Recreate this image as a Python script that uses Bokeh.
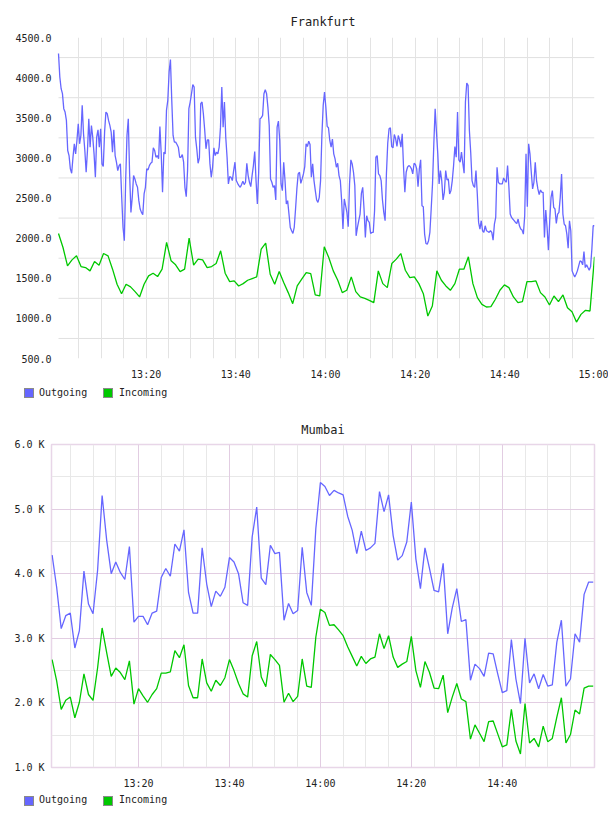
import numpy as np
import pandas as pd
from bokeh.plotting import figure
from bokeh.layouts import column
from bokeh.models import (Range1d, FixedTicker, NumeralTickFormatter, CustomJSTickFormatter,
                          Grid, ColumnDataSource, Div)
from bokeh.embed import file_html
from bokeh.resources import INLINE

DAY = "2024-01-01"

# ---------------- data ----------------
fra_start, fra_end = "13:00:27", "15:00:00"
fra_outgoing = [
    4300, 4008, 3862, 3800, 3613, 3571, 3467, 3092, 3029, 2863, 2808, 3008, 3175, 3050, 3217, 3425,
    3175, 3279, 3654, 3300, 3092, 2821, 3092, 3488, 3133, 3404, 3258, 3050, 2758, 3258, 3350, 3133,
    3363, 2925, 2892, 3321, 3571, 3550, 3467, 3404, 3321, 3071, 3350, 3029, 2946, 2842, 2904, 2925,
    2508, 2133, 1967, 2717, 3279, 3488, 2800, 2321, 2508, 2779, 2738, 2675, 2633, 2467, 2363, 2321,
    2292, 2550, 2633, 2863, 2850, 2904, 2933, 2946, 3125, 3092, 3008, 3029, 2988, 3392, 3050, 2571,
    3071, 3050, 3592, 3717, 4071, 4225, 3717, 3279, 3196, 3196, 3167, 3133, 3008, 3008, 3042, 2946,
    2633, 2517, 2842, 3613, 3696, 3800, 3913, 3883, 3258, 3113, 2933, 3000, 3675, 3696, 3550, 3350,
    3113, 3225, 3225, 2925, 2758, 2883, 3125, 3029, 3071, 3050, 3133, 3383, 3883, 3383, 3696, 3258,
    3008, 2675, 2767, 2758, 2717, 2842, 2946,
    2717, 2683, 2654, 2633, 2667, 2708, 2667, 2696, 2933, 2779, 2696, 2642, 2779, 2904, 3079, 2717,
    2425, 2821, 3488, 3500, 3529, 3800, 3850, 3800, 3633, 3404, 2738, 2696, 2633, 2654, 2475, 3383,
    3458, 3217, 2675, 2592, 2946, 2717, 2425, 2467, 2300, 2133, 2092, 2058, 2133, 2363, 2613, 2800,
    2821, 2683, 2738, 2800, 2892, 3175, 3142, 3208, 3167, 2758, 2925, 2717, 2592, 2475, 2446, 2508,
    2717, 3279, 3654, 3821, 3633, 3392, 3375, 3217, 3133, 3233, 3050, 2988, 2883, 2933, 2779, 2717,
    2467, 2113, 2488, 2404, 2321, 2142, 2675, 2975, 2925, 2821, 2654, 2029, 2133, 2217, 2300, 2558,
    2633, 2363, 2008, 2279, 2217, 2196, 2058, 2071, 2071, 2342, 3008, 3029, 2800, 2779, 2717, 2475,
    2321, 2217, 2800, 3183, 3363, 3375, 3142, 3125, 3292, 3238, 3142, 3279, 3225, 3133, 3300, 2883,
    2571, 2821, 2883, 2904, 2892, 2863, 2800,
    2933, 2917, 2863, 2642, 2863, 2975, 2404, 2392, 2050, 1933, 1925, 1967, 2071, 2363, 2675, 3175,
    3613, 3321, 3050, 2675, 2842, 2717, 2475, 2571, 2842, 2725, 2738, 2550, 2592, 2717, 2904, 3142,
    3008, 3571, 2975, 2946, 3071, 2933, 2808, 3696, 3933, 3904, 3342, 3071, 2717, 2654, 2633, 2842,
    2550, 2196, 2113, 2217, 2092, 2071, 2154, 2092, 2083, 2071, 2092, 2071, 1975, 2175, 2258, 2883,
    2696, 2675, 2675, 2675, 2750, 2717, 2696, 2904, 2633, 2300, 2258, 2238, 2217, 2196, 2183, 2238,
    2154, 2113, 2100, 2050, 2279, 3050, 2392, 3175, 3050, 2821, 2613, 2696, 2946, 2717, 2613, 2542,
    2600, 2571, 2571, 2008, 2350, 2133, 1850, 2217, 2508, 2592, 2383, 2363, 2183, 2300, 2321, 2508,
    2800, 2300, 2175, 2154, 2050, 1875, 2217, 2092, 1592, 1550, 1517, 1550, 1592, 1654, 1717, 1708,
    1667, 1833, 1633, 1667, 1633, 1600, 1642, 1863, 2154, 2154,
]
fra_incoming = [
    2058, 1883, 1654, 1729, 1779, 1646, 1633, 1592, 1708, 1663, 1808, 1779, 1613, 1425, 1308, 1425,
    1392, 1333, 1267, 1425, 1529, 1563, 1521, 1613, 1946, 1717, 1667, 1583, 1613, 2000, 1663, 1738,
    1729, 1633, 1646, 1683, 1842, 1563, 1458, 1467,
    1404, 1433, 1475, 1496, 1517, 1863, 1938, 1550, 1425, 1583, 1446, 1321, 1183, 1404, 1488, 1571,
    1558, 1292, 1279, 1892, 1758, 1592, 1475, 1321, 1350, 1517, 1333, 1267, 1250, 1225, 1196, 1592,
    1433, 1383, 1683, 1738, 1808, 1600, 1508, 1517,
    1433, 1308, 1029, 1154, 1592, 1475, 1404, 1350, 1433, 1613, 1613, 1767, 1433, 1258, 1175, 1142,
    1146, 1238, 1350, 1417, 1383, 1267, 1196, 1208, 1458, 1458, 1467, 1321, 1267, 1167, 1279, 1208,
    1292, 1133, 1083, 954, 1050, 1100, 1092, 1767,
]
fra_yticks = [500, 1000, 1500, 2000, 2500, 3000, 3500, 4000, 4500]
fra_xticks = ["13:20", "13:40", "14:00", "14:20", "14:40", "15:00"]

mum_start, mum_step_min = "13:01", 1
mum_range = ("13:00:52", "15:00:17")
mum_outgoing = [
    4290, 3790, 3150, 3350, 3390, 2850, 3120, 4040, 3530, 3380, 4050, 5210, 4520, 4000, 4180, 4020,
    3910, 4420, 3250, 3340, 3340, 3210, 3390, 3420, 3940, 4080, 3960, 4460, 4350, 4680, 3710, 3390,
    3390, 4400, 3840, 3490, 3730, 3650, 3790, 4250, 4180, 4000, 3550, 3510, 4570, 5030, 3930, 3830,
    4440, 4310, 4330, 3280, 3540, 3380, 3430, 4410, 3710, 3510, 4700, 5410, 5350, 5210, 5290, 5250,
    5220, 4890, 4670, 4310, 4660, 4360, 4400, 4470, 5270, 4960, 5220, 4590, 4210, 4280, 4490, 5110,
    4230, 3770, 4400, 4080, 3740, 3720, 4160, 3070, 3470, 3770, 3260, 3290, 2350, 2600, 2530, 2410,
    2770, 2760, 2450, 2160, 2190, 2980, 2370, 1990, 3000, 2310, 2450, 2220, 2440, 2260, 2280, 2940,
    3280, 2260, 2370, 3070, 2940, 3680, 3870, 3870,
]
mum_incoming = [
    2670, 2340, 1900, 2040, 2090, 1770, 2010, 2450, 2130, 2040, 2540, 3160, 2780, 2410, 2540, 2470,
    2360, 2650, 1980, 2220, 2110, 2010, 2130, 2220, 2460, 2460, 2480, 2810, 2700, 2900, 2270, 2080,
    2080, 2680, 2310, 2180, 2350, 2270, 2390, 2670, 2500, 2300, 2140, 2090, 2730, 2950, 2400, 2250,
    2750, 2670, 2580, 2010, 2150, 2020, 2100, 2680, 2260, 2240, 3020, 3450, 3400, 3200, 3210, 3130,
    3040, 2870, 2720, 2570, 2720, 2610, 2680, 2710, 3070, 2840, 3040, 2710, 2550, 2600, 2640, 3030,
    2500, 2240, 2640, 2470, 2230, 2220, 2430, 1850, 2090, 2300, 2060, 2020, 1440, 1660, 1530, 1400,
    1710, 1720, 1520, 1320, 1350, 1900, 1410, 1210, 1990, 1380, 1450, 1320, 1640, 1400, 1450, 1780,
    2080, 1380, 1510, 1890, 1830, 2230, 2260, 2260,
]
mum_yticks = [1000, 2000, 3000, 4000, 5000, 6000]
mum_xticks = ["13:20", "13:40", "14:00", "14:20", "14:40"]

series_labels = ["Outgoing", "Incoming"]

# ---------------- styling ----------------
BLUE = "#6666ff"
GREEN = "#00c800"
FONT = "DejaVu Sans Mono"
TXT = "#222222"
LEFT, RIGHT = 51, 14          # frames of both charts share these borders


def ms(hm):
    return pd.Timestamp(f"{DAY} {hm}").value // 10**6


MIN = 60000
time_fmt = CustomJSTickFormatter(code="""
const d = new Date(tick);
const h = String(d.getUTCHours()).padStart(2, '0');
const m = String(d.getUTCMinutes()).padStart(2, '0');
return h + ':' + m;
""")


def five_min_lines(t0, t1):
    first = int(np.ceil(t0 / (5 * MIN))) * 5 * MIN
    return list(range(first, int(t1) + 1, 5 * MIN))


def base_fig(title, height, x0, x1, y0, y1, top, bottom, standoff, ystand):
    p = figure(width=608, height=height, output_backend="svg", toolbar_location=None,
               x_range=Range1d(x0, x1), y_range=Range1d(y0, y1),
               min_border_left=LEFT, min_border_right=RIGHT,
               min_border_top=top, min_border_bottom=bottom)
    p.title.text = title
    p.title.align = "center"
    p.title.text_font = FONT
    p.title.text_font_style = "normal"
    p.title.text_font_size = "12px"
    p.title.text_color = TXT
    p.title.standoff = standoff
    p.grid.visible = False
    p.background_fill_color = "white"
    p.border_fill_color = "white"
    for ax in (p.xaxis[0], p.yaxis[0]):
        ax.axis_line_color = None
        ax.major_tick_line_color = None
        ax.minor_tick_line_color = None
        ax.major_tick_out = 0
        ax.major_tick_in = 0
        ax.minor_tick_out = 0
        ax.major_label_text_font = FONT
        ax.major_label_text_font_size = "10px"
        ax.major_label_text_color = TXT
    p.xaxis.formatter = time_fmt
    p.xaxis.major_label_standoff = 10
    p.yaxis.major_label_standoff = ystand
    return p


def legend_div(sq_top, text_mid):
    parts = []
    for (sq_left, txt_left, color, label) in ((24, 39, BLUE, series_labels[0]),
                                              (103, 119, GREEN, series_labels[1])):
        parts.append(
            f'<span style="position:absolute;left:{sq_left}px;top:{sq_top}px;width:10px;height:10px;'
            f'box-sizing:border-box;background:{color};border:1px solid #8a8a8a;"></span>'
            f'<span style="position:absolute;left:{txt_left}px;top:{text_mid - 6}px;height:12px;'
            f'line-height:12px;white-space:nowrap;">{label}</span>')
    html = ('<div style="position:relative;width:608px;height:23px;'
            f'font-family:\'{FONT}\';font-size:10px;color:{TXT};">' + "".join(parts) + '</div>')
    return Div(text=html, width=608, height=23, margin=0)


# ---------------- Frankfurt ----------------
f0, f1 = ms(fra_start), ms(fra_end)
fra_px_per_ms = (608 - RIGHT - 58) / (f1 - f0)        # data starts 58 px from the left
fx0 = f0 - (58 - LEFT) / fra_px_per_ms
p1 = base_fig("Frankfurt", 385, fx0, f1, 500, 4500, 37, 27, 17, 0)
p1.outline_line_color = None
p1.add_layout(Grid(dimension=0, ticker=FixedTicker(ticks=five_min_lines(f0, f1)),
                   grid_line_color="#e3e3e3", grid_line_width=1))
hl = [v + 250 for v in fra_yticks[:-1]]
p1.segment(x0=[f0] * len(hl), x1=[f1] * len(hl), y0=hl, y1=hl,
           line_color="#e0e0e0", line_width=1, level="underlay")
p1.yaxis.ticker = FixedTicker(ticks=fra_yticks)
p1.yaxis.formatter = NumeralTickFormatter(format="0.0")
p1.xaxis.ticker = FixedTicker(ticks=[ms(t) for t in fra_xticks])

src_fo = ColumnDataSource(dict(t=np.linspace(f0, f1, len(fra_outgoing)), v=fra_outgoing))
src_fi = ColumnDataSource(dict(t=np.linspace(f0, f1, len(fra_incoming)), v=fra_incoming))
p1.line("t", "v", source=src_fo, line_color=BLUE, line_width=1.3)
p1.line("t", "v", source=src_fi, line_color=GREEN, line_width=1.3)
l1 = legend_div(3, 8)

# ---------------- Mumbai ----------------
m0, m1 = ms(mum_range[0]), ms(mum_range[1])
p2 = base_fig("Mumbai", 385, m0, m1, 1000, 6000, 36, 26, 16, 7)
p2.outline_line_color = "#e8d6e8"
p2.outline_line_width = 1.5
major_x = [ms(t) for t in mum_xticks]
minor_x = [t for t in five_min_lines(m0, m1) if t not in major_x and t < m1 - MIN]
p2.add_layout(Grid(dimension=0, ticker=FixedTicker(ticks=minor_x),
                   grid_line_color="#e8e8e8", grid_line_width=1))
p2.add_layout(Grid(dimension=1, ticker=FixedTicker(ticks=[v + 500 for v in mum_yticks[:-1]]),
                   grid_line_color="#e8e8e8", grid_line_width=1))
p2.add_layout(Grid(dimension=0, ticker=FixedTicker(ticks=major_x),
                   grid_line_color="#e2cde2", grid_line_width=1))
p2.add_layout(Grid(dimension=1, ticker=FixedTicker(ticks=mum_yticks[1:-1]),
                   grid_line_color="#e2cde2", grid_line_width=1))
p2.yaxis.ticker = FixedTicker(ticks=mum_yticks)
p2.yaxis.formatter = CustomJSTickFormatter(code="return (tick/1000).toFixed(1) + ' K';")
p2.xaxis.ticker = FixedTicker(ticks=major_x)

t_m = [ms(mum_start) + i * mum_step_min * MIN for i in range(len(mum_outgoing))]
src_mo = ColumnDataSource(dict(t=t_m, v=mum_outgoing))
src_mi = ColumnDataSource(dict(t=t_m, v=mum_incoming))
p2.line("t", "v", source=src_mo, line_color=BLUE, line_width=1.3)
p2.line("t", "v", source=src_mi, line_color=GREEN, line_width=1.3)
l2 = legend_div(3, 7)

layout = column(p1, l1, p2, l2, spacing=0)
with open("out.html", "w") as f:
    f.write(file_html(layout, INLINE))
